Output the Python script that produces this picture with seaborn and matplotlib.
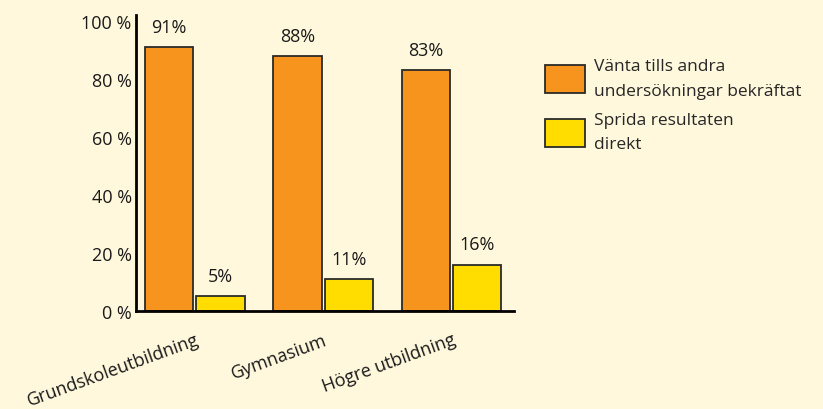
import pandas as pd
import matplotlib.pyplot as plt
import seaborn as sns
from matplotlib.patches import Patch

# data
kategorier = ['Grundskoleutbildning', 'Gymnasium', 'Högre utbildning']
serier = ['Vänta tills andra\nundersökningar bekräftat', 'Sprida resultaten\ndirekt']
vanta = [91, 88, 83]
sprida = [5, 11, 16]
yticks = [0, 20, 40, 60, 80, 100]
ytick_labels = ['0 %', '20 %', '40 %', '60 %', '80 %', '100 %']

bg = '#FFF8DC'
farger = ['#F7941E', '#FFDD00']

df = pd.DataFrame({
    'kategori': kategorier * 2,
    'serie': [serier[0]] * 3 + [serier[1]] * 3,
    'varde': vanta + sprida,
})

sns.set_style('white')
plt.rcParams['font.family'] = ['Open Sans', 'DejaVu Sans']

fs = 13
fig = plt.figure(figsize=(8.23, 4.10), dpi=100, facecolor=bg)
ax = fig.add_axes([0.165, 0.239, 0.46, 0.722])
ax.set_facecolor(bg)

sns.barplot(data=df, x='kategori', y='varde', hue='serie', palette=farger,
            saturation=1, width=0.8, gap=0.06, edgecolor='#2a2a2a', linewidth=1.3,
            legend=False, ax=ax)

for cont in ax.containers:
    ax.bar_label(cont, fmt='%d%%', padding=8, fontsize=fs, color='#1a1a1a')

ax.set_ylim(0, 102)
ax.set_xlim(-0.46, 2.49)
ax.set_yticks(yticks)
ax.set_yticklabels(ytick_labels, fontsize=fs, color='#1a1a1a')
ax.set_xticks(range(len(kategorier)))
ax.set_xticklabels(kategorier, fontsize=fs, color='#1a1a1a', rotation=20,
                   ha='right', rotation_mode='anchor')
ax.tick_params(axis='both', length=0)
ax.tick_params(axis='x', pad=14)
ax.tick_params(axis='y', pad=3)
ax.set_xlabel('')
ax.set_ylabel('')

sns.despine(ax=ax)
for s in ['left', 'bottom']:
    ax.spines[s].set_color('black')
    ax.spines[s].set_linewidth(2)

handles = [Patch(facecolor=farger[i], edgecolor='#2a2a2a', linewidth=1.3, label=serier[i])
           for i in range(2)]
leg = fig.legend(handles=handles, loc='upper left', bbox_to_anchor=(0.643, 0.893),
                 frameon=False, fontsize=fs - 0.5, handlelength=2.3, handleheight=2.1,
                 handletextpad=0.55, labelspacing=0.75)
for t in leg.get_texts():
    t.set_linespacing(1.7)

fig.savefig('out.png', dpi=100, facecolor=bg)
